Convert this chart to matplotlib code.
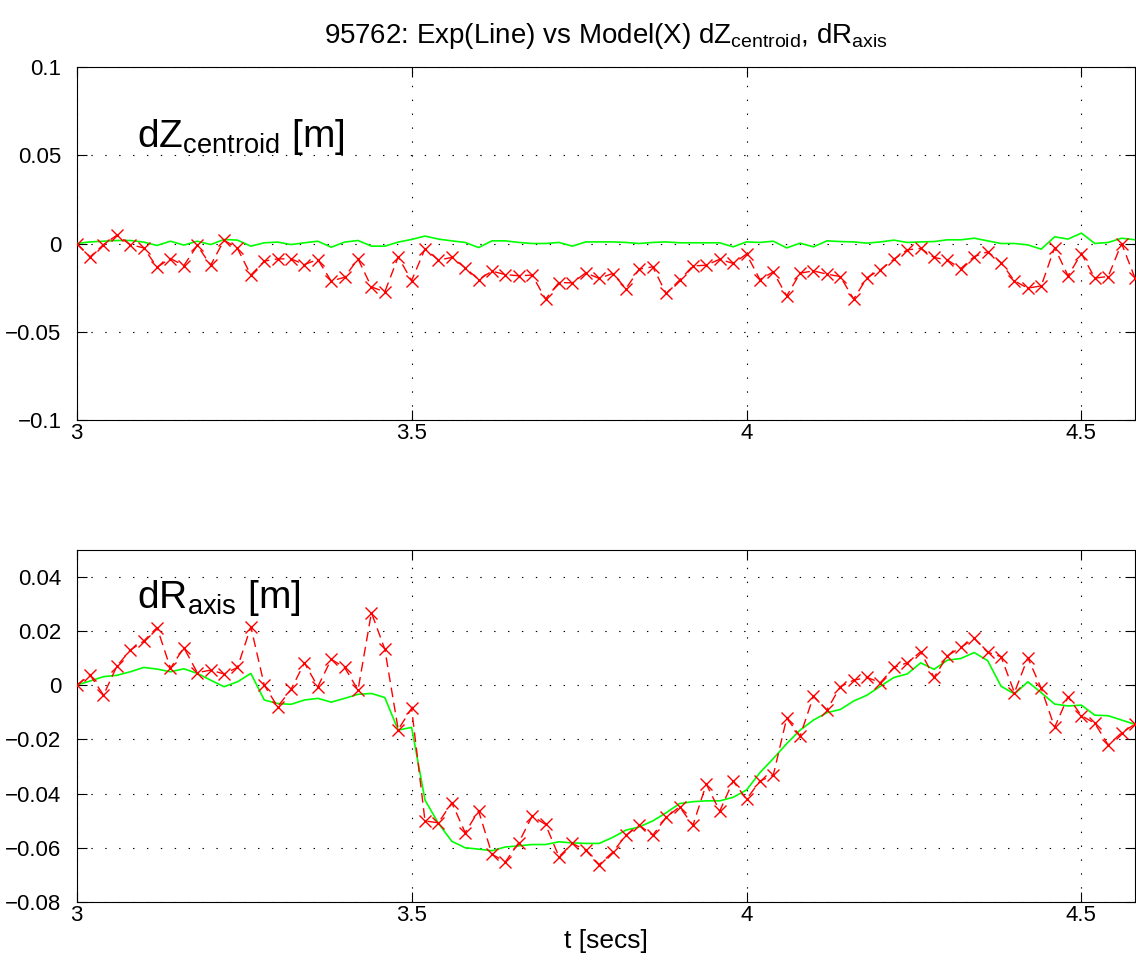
import numpy as np
import matplotlib
matplotlib.use('Agg')
import matplotlib.pyplot as plt

plt.rcParams['font.family'] = ['Liberation Sans', 'DejaVu Sans']
plt.rcParams['mathtext.fontset'] = 'custom'
plt.rcParams['mathtext.rm'] = 'Liberation Sans'
plt.rcParams['mathtext.it'] = 'Liberation Sans:italic'
plt.rcParams['lines.scale_dashes'] = False

# sample times
t_start, dt, n_samples = 3.0, 0.02, 80
t = t_start + dt * np.arange(n_samples)

# dZ centroid [m]
dz_model = [0, -0.0076, -0.0006, 0.0047, -0.0006, -0.0025, -0.0134, -0.0085, -0.0125, -0.0011,
            -0.0123, 0.0019, -0.0028, -0.0179, -0.0100, -0.0087, -0.0087, -0.0119, -0.0091, -0.0213,
            -0.0191, -0.0087, -0.0246, -0.0274, -0.0076, -0.0210, -0.0030, -0.0094, -0.0079, -0.0138,
            -0.0204, -0.0157, -0.0176, -0.0183, -0.0179, -0.0315, -0.0221, -0.0223, -0.0166, -0.0198,
            -0.0170, -0.0255, -0.0145, -0.0132, -0.0283, -0.0208, -0.0127, -0.0123, -0.0089, -0.0113,
            -0.0060, -0.0204, -0.0161, -0.0297, -0.0168, -0.0155, -0.0174, -0.0187, -0.0315, -0.0193,
            -0.0149, -0.0089, -0.0036, -0.0028, -0.0079, -0.0094, -0.0142, -0.0074, -0.0047, -0.0108,
            -0.0212, -0.0253, -0.0240, -0.0023, -0.0183, -0.0057, -0.0196, -0.0187, 0.0000, -0.0196]
dz_exp = [0, 0.0009, 0.0013, 0.0017, 0.0017, 0.0008, -0.0011, 0.0013, -0.0009, 0.0013,
          -0.0006, 0.0023, 0.0019, -0.0015, 0.0004, 0.0008, -0.0006, 0.0004, 0.0013, -0.0021,
          0.0008, 0.0017, -0.0015, -0.0015, 0.0008, 0.0023, 0.0042, 0.0025, 0.0015, 0.0006,
          -0.0023, 0.0015, 0.0015, 0.0006, 0.0, 0.0, 0.0006, -0.0015, 0.0009, 0.0009,
          0.0009, 0.0006, 0.0, 0.0006, 0.0009, 0.0004, 0.0004, 0.0004, 0.0004, -0.0019,
          0.0009, 0.0006, 0.0013, -0.0025, 0.0002, -0.0019, 0.0015, 0.0011, 0.0009, 0.0002,
          0.0009, 0.0019, 0.0006, 0.0009, 0.0011, 0.0021, 0.0021, 0.0030, 0.0015, 0.0,
          0.0, -0.0008, -0.0032, 0.0038, 0.0025, 0.0059, 0.0, 0.0006, 0.0030, 0.0021]

# dR axis [m]
dr_model = [0, 0.0037, -0.0037, 0.0070, 0.0129, 0.0162, 0.0212, 0.0062, 0.0138, 0.0046,
            0.0055, 0.0041, 0.0065, 0.0215, 0.0000, -0.0080, -0.0016, 0.0082, -0.0006, 0.0095,
            0.0065, -0.0018, 0.0267, 0.0132, -0.0164, -0.0086, -0.0501, -0.0508, -0.0434, -0.0544,
            -0.0464, -0.0624, -0.0652, -0.0581, -0.0483, -0.0514, -0.0633, -0.0584, -0.0609, -0.0662,
            -0.0617, -0.0554, -0.0517, -0.0554, -0.0488, -0.0449, -0.0517, -0.0365, -0.0465, -0.0354,
            -0.0421, -0.0354, -0.0332, -0.0122, -0.0188, -0.0041, -0.0092, -0.0006, 0.0018, 0.0028,
            0.0009, 0.0065, 0.0082, 0.0123, 0.0028, 0.0108, 0.0139, 0.0172, 0.0121, 0.0105,
            -0.0028, 0.0101, -0.0012, -0.0156, -0.0043, -0.0113, -0.0141, -0.0221, -0.0176, -0.0144]
dr_exp = [0, 0.0015, 0.0031, 0.0036, 0.0049, 0.0065, 0.0059, 0.0049, 0.0060, 0.0043,
          0.0018, -0.0006, 0.0012, 0.0043, -0.0055, -0.0068, -0.0071, -0.0055, -0.0049, -0.0063,
          -0.0049, -0.0034, -0.0031, -0.0046, -0.0166, -0.0156, -0.0424, -0.0510, -0.0576, -0.0600,
          -0.0605, -0.0611, -0.0597, -0.0593, -0.0588, -0.0588, -0.0578, -0.0582, -0.0584, -0.0584,
          -0.0562, -0.0535, -0.0523, -0.0501, -0.0471, -0.0437, -0.0430, -0.0427, -0.0427, -0.0414,
          -0.0387, -0.0323, -0.0271, -0.0216, -0.0166, -0.0129, -0.0102, -0.0090, -0.0059, -0.0037,
          -0.0004, 0.0028, 0.0041, 0.0082, 0.0058, 0.0092, 0.0098, 0.0120, 0.0090, -0.0004,
          -0.0033, 0.0012, -0.0028, -0.0070, -0.0077, -0.0074, -0.0111, -0.0113, -0.0129, -0.0145]

x_ticks = [3, 3.5, 4, 4.5]
x_ticklabels = ['3', '3.5', '4', '4.5']
dz_ticks = [-0.1, -0.05, 0, 0.05, 0.1]
dz_ticklabels = ['\u22120.1', '\u22120.05', '0', '0.05', '0.1']
dr_ticks = [-0.08, -0.06, -0.04, -0.02, 0, 0.02, 0.04]
dr_ticklabels = ['\u22120.08', '\u22120.06', '\u22120.04', '\u22120.02', '0', '0.02', '0.04']

W, H = 1136, 969
fig = plt.figure(figsize=(W / 100, H / 100), dpi=100)
left = 76.7 / W
width = (1135 - 76.7) / W
ax1 = fig.add_axes([left, 1 - 420 / H, width, (420 - 67) / H])
ax2 = fig.add_axes([left, 1 - 902 / H, width, (902 - 549.5) / H])

TICK_FS = 16
LABEL_FS = 19
for ax in (ax1, ax2):
    ax.set_xlim(3, 4.58)
    ax.set_xticks(x_ticks)
    ax.set_xticklabels(x_ticklabels)
    ax.tick_params(direction='in', top=True, right=True, length=7, width=0.8,
                   labelsize=TICK_FS, colors='black')
    ax.tick_params(axis='x', pad=2)
    ax.tick_params(axis='y', pad=11)
    ax.grid(True, color='black', linestyle=(0, (1, 9)), linewidth=0.8)
    for s in ax.spines.values():
        s.set_linewidth(0.8)

ax1.plot(t, dz_exp, color='#00ff00', linewidth=1.2, zorder=3)
ax1.plot(t, dz_model, color='red', linestyle=(0, (7, 4)), linewidth=1.0,
         marker='x', markersize=9, markeredgewidth=1.0, zorder=4)
ax1.set_ylim(-0.1, 0.1)
ax1.set_yticks(dz_ticks)
ax1.set_yticklabels(dz_ticklabels)

ax2.plot(t, dr_exp, color='#00ff00', linewidth=1.2, zorder=3)
ax2.plot(t, dr_model, color='red', linestyle=(0, (7, 4)), linewidth=1.0,
         marker='x', markersize=9, markeredgewidth=1.0, zorder=4)
ax2.set_ylim(-0.08, 0.05)
ax2.set_yticks(dr_ticks)
ax2.set_yticklabels(dr_ticklabels)
ax2.set_xlabel('t [secs]', fontsize=LABEL_FS, labelpad=2)

ax1.text(0.057, 0.773, r'dZ$_{\rm centroid}$ [m]', transform=ax1.transAxes,
         fontsize=28, ha='left', va='baseline')
ax2.text(0.057, 0.834, r'dR$_{\rm axis}$ [m]', transform=ax2.transAxes,
         fontsize=28, ha='left', va='baseline')

fig.text(606 / W, 1 - 36 / H,
         r'95762: Exp(Line) vs Model(X) dZ$_{\rm centroid}$, dR$_{\rm axis}$',
         ha='center', va='center', fontsize=20)

fig.savefig('out.png', dpi=100)
